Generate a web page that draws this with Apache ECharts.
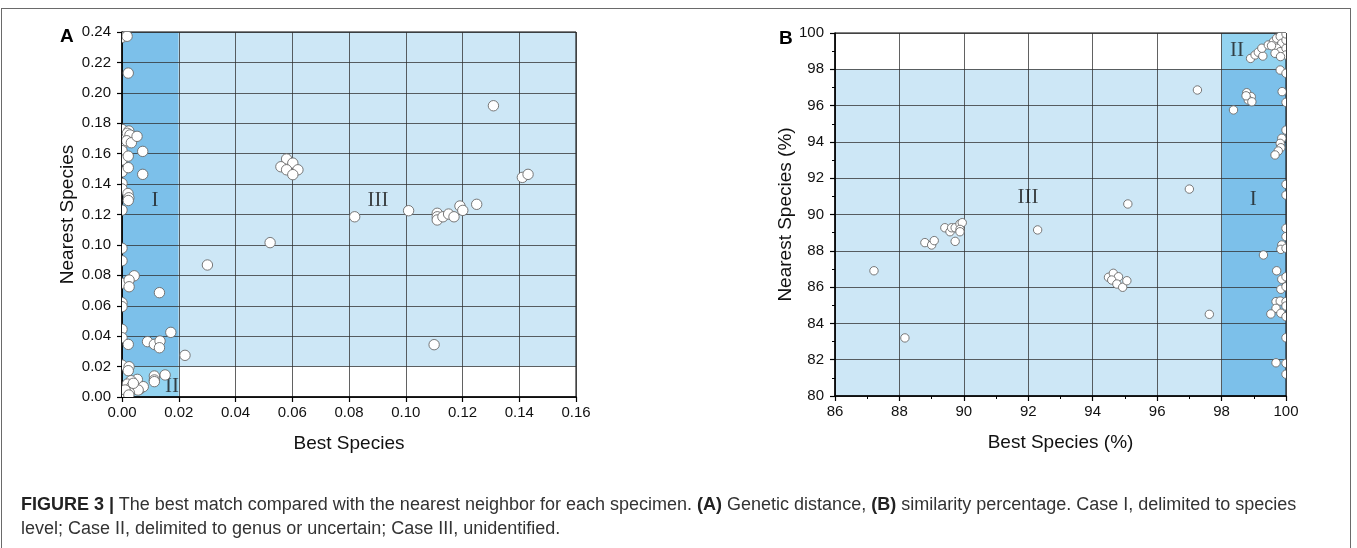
<!DOCTYPE html>
<html>
<head>
<meta charset="utf-8">
<script src="https://cdn.jsdelivr.net/npm/echarts@6/dist/echarts.min.js"></script>
<style>
  html, body { margin: 0; padding: 0; background: #fff; }
  #wrap { position: relative; width: 1357px; height: 548px; overflow: hidden; }
  #chart { position: absolute; left: 0; top: 0; width: 1357px; height: 548px; }
  #frame { position: absolute; left: 1px; top: 8px; width: 1350px; height: 560px;
           border: 1px solid #6a6a6a; box-sizing: border-box; }
  #caption { position: absolute; left: 21px; top: 492px; width: 1320px;
             font-family: "Liberation Sans", Arial, sans-serif; font-size: 18px;
             line-height: 24px; color: #333; white-space: nowrap; }
  #caption b { color: #222; }
</style>
</head>
<body>
<div id="wrap">
  <div id="frame"></div>
  <div id="chart"></div>
  <div id="caption"><b>FIGURE 3 |</b> The best match compared with the nearest neighbor for each specimen. <b>(A)</b> Genetic distance, <b>(B)</b> similarity percentage. Case I, delimited to species<br>level; Case II, delimited to genus or uncertain; Case III, unidentified.</div>
</div>
<script>
// Panel A: genetic distance (best species vs nearest species)
const distanceTicksX = [0, 0.02, 0.04, 0.06, 0.08, 0.10, 0.12, 0.14, 0.16];
const distanceTicksY = [0, 0.02, 0.04, 0.06, 0.08, 0.10, 0.12, 0.14, 0.16, 0.18, 0.20, 0.22, 0.24];
const distancePoints = [
  [0, 0.2365], [0.0018, 0.2372], [0.0022, 0.2130],
  [0, 0.1760], [0, 0.1710], [0, 0.1655], [0, 0.1620], [0, 0.1558], [0, 0.1480],
  [0, 0.1405], [0, 0.1368], [0, 0.1229], [0, 0.0978], [0, 0.0896], [0, 0.0748],
  [0, 0.0620], [0, 0.0594], [0, 0.0445], [0, 0.0390], [0, 0.0210], [0, 0.0013],
  [0.0024, 0.1749], [0.0019, 0.1734], [0.0028, 0.1723], [0.0017, 0.1685], [0.0033, 0.1672],
  [0.0053, 0.1714], [0.0073, 0.1615], [0.0022, 0.1584], [0.0022, 0.1508], [0.0073, 0.1464],
  [0.0021, 0.1338], [0.0024, 0.1310], [0.0022, 0.1292],
  [0.0043, 0.0797], [0.0025, 0.0769], [0.0025, 0.0725], [0.0132, 0.0686], [0.0301, 0.0868],
  [0.0022, 0.0346], [0.0090, 0.0364], [0.0114, 0.0346], [0.0134, 0.0368], [0.0132, 0.0324],
  [0.0172, 0.0425], [0.0222, 0.0274],
  [0.0025, 0.0199], [0.0022, 0.0173],
  [0.0114, 0.0138], [0.0114, 0.0112], [0.0114, 0.0101], [0.0152, 0.0145],
  [0.0054, 0.0116], [0.0032, 0.0107], [0.0019, 0.0085], [0.0034, 0.0068], [0.0063, 0.0053],
  [0.0075, 0.0068], [0.0057, 0.0046], [0.0026, 0.0028], [0.0011, 0.0046], [0.0024, 0.0013],
  [0.0040, 0.0090],
  [0.0522, 0.1015], [0.0580, 0.1565], [0.0602, 0.1538], [0.0560, 0.1514], [0.0580, 0.1494],
  [0.0620, 0.1494], [0.0602, 0.1462],
  [0.0820, 0.1185], [0.1010, 0.1225], [0.1111, 0.1208], [0.1111, 0.1185], [0.1111, 0.1164],
  [0.1131, 0.1185], [0.1151, 0.1203], [0.1170, 0.1185], [0.1191, 0.1256], [0.1201, 0.1227],
  [0.1250, 0.1267], [0.1309, 0.1915], [0.1411, 0.1444], [0.1431, 0.1464], [0.1100, 0.0344]
];
// Case regions [x0, y0, x1, y1, case]
const distanceRegions = [
  [0, 0.02, 0.02, 0.24, 'I'],
  [0, 0, 0.02, 0.02, 'II'],
  [0.02, 0.02, 0.16, 0.24, 'III']
];
const distanceCaseLabels = [
  ['I', 0.0116, 0.1295], ['II', 0.0176, 0.0066], ['III', 0.0902, 0.1295]
];

// Panel B: similarity percentage
const similarityTicksX = [86, 88, 90, 92, 94, 96, 98, 100];
const similarityTicksY = [80, 82, 84, 86, 88, 90, 92, 94, 96, 98, 100];
const similarityPoints = [
  [87.21, 86.90], [88.17, 83.20], [88.79, 88.45], [89.00, 88.32], [89.08, 88.56],
  [89.41, 89.27], [89.57, 89.05], [89.62, 89.27], [89.73, 89.27], [89.73, 88.52],
  [89.88, 89.48], [89.95, 89.55], [89.88, 89.18], [89.88, 89.05],
  [92.29, 89.15], [95.09, 90.58], [94.49, 86.54], [94.64, 86.76], [94.80, 86.57],
  [94.59, 86.39], [94.75, 86.17], [94.93, 85.99], [95.06, 86.35],
  [97.00, 91.40], [97.25, 96.86], [97.62, 84.50],
  [98.37, 95.76], [98.78, 96.71], [98.92, 96.49], [98.83, 96.31], [98.94, 96.21], [98.76, 96.54],
  [98.90, 98.60], [99.04, 98.79], [99.14, 98.94], [99.28, 98.73], [99.25, 99.16], [99.45, 99.34],
  [99.61, 99.52], [99.71, 99.71], [99.82, 99.81], [99.87, 99.43], [99.71, 99.16], [99.82, 98.97],
  [99.66, 98.88], [99.55, 99.30], [100, 99.16], [100, 98.79], [99.83, 98.70], [100, 99.61],
  [100, 99.95],
  [99.82, 97.96], [100, 97.78], [99.88, 96.77], [100, 96.18], [100, 94.65], [99.87, 94.20],
  [99.82, 93.92], [99.84, 93.68], [99.76, 93.50], [99.66, 93.28], [100, 91.66], [100, 91.07],
  [100, 89.24], [100, 88.78], [99.87, 88.32], [99.84, 88.08], [100, 88.14], [99.30, 87.77],
  [99.71, 86.90], [99.87, 86.43], [100, 86.57], [99.84, 85.88], [100, 86.02], [99.69, 85.20],
  [99.82, 85.23], [100, 85.20], [99.69, 84.83], [99.53, 84.52], [99.84, 84.56], [100, 84.37],
  [100, 84.96], [100, 83.21], [99.69, 81.83], [100, 81.80], [100, 81.20]
];
const similarityRegions = [
  [98, 80, 100, 98, 'I'],
  [98, 98, 100, 100, 'II'],
  [86, 80, 98, 98, 'III']
];
const similarityCaseLabels = [
  ['III', 91.99, 90.96], ['I', 98.98, 90.85], ['II', 98.48, 99.06]
];

const caseColors = { I: '#7cc0ea', II: '#93d3f0', III: '#cde7f6' };
const SANS = '"Liberation Sans", Arial, sans-serif';
const SERIF = '"Liberation Serif", "Times New Roman", serif';

function valueAxis(grid, ticks, decimals, nameText, nameGap, isX, minor) {
  return {
    type: 'value', gridIndex: grid,
    min: ticks[0], max: ticks[ticks.length - 1], interval: ticks[1] - ticks[0],
    name: nameText, nameLocation: 'middle', nameGap: nameGap,
    nameTextStyle: { fontFamily: SANS, fontSize: 19, color: '#111' },
    axisLine: { show: true, onZero: false, lineStyle: { color: '#000', width: 1.5 } },
    axisTick: { show: true, inside: false, length: 5, lineStyle: { color: '#000', width: 1.2 } },
    minorTick: { show: !!minor, splitNumber: 2, length: 3, lineStyle: { color: '#000', width: 1 } },
    axisLabel: {
      fontFamily: SANS, fontSize: 15, color: '#111', margin: isX ? 8 : 11,
      formatter: v => decimals ? v.toFixed(decimals) : String(v)
    },
    splitLine: { show: true, lineStyle: { color: 'rgba(45,45,45,0.75)', width: 1 } }
  };
}

function regionSeries(idx, regions) {
  return {
    type: 'custom', xAxisIndex: idx, yAxisIndex: idx, z: -1, silent: true,
    data: regions,
    encode: { x: [0, 2], y: [1, 3] },
    renderItem: (params, api) => {
      const a = api.coord([api.value(0), api.value(1)]);
      const b = api.coord([api.value(2), api.value(3)]);
      const c = regions[params.dataIndex][4];
      return {
        type: 'rect',
        shape: { x: Math.min(a[0], b[0]), y: Math.min(a[1], b[1]),
                 width: Math.abs(b[0] - a[0]), height: Math.abs(b[1] - a[1]) },
        style: { fill: caseColors[c] }
      };
    }
  };
}

function pointSeries(idx, points, r) {
  return {
    type: 'custom', xAxisIndex: idx, yAxisIndex: idx, z: 3, clip: true, silent: true,
    data: points,
    encode: { x: 0, y: 1 },
    renderItem: (params, api) => {
      const p = api.coord([api.value(0), api.value(1)]);
      return {
        type: 'circle',
        shape: { cx: p[0], cy: p[1], r: r },
        style: { fill: '#ffffff', stroke: '#6a6a6a', lineWidth: 0.9 }
      };
    }
  };
}

function caseLabelSeries(idx, labels) {
  return {
    type: 'scatter', xAxisIndex: idx, yAxisIndex: idx, z: 2, silent: true,
    symbolSize: 0,
    data: labels.map(l => ({ name: l[0], value: [l[1], l[2]] })),
    label: {
      show: true, position: 'inside', formatter: p => p.name,
      fontFamily: SERIF, fontSize: 21, color: '#1a1a1a'
    }
  };
}

const chart = echarts.init(document.getElementById('chart'), null, { renderer: 'canvas' });
chart.setOption({
  animation: false,
  backgroundColor: 'transparent',
  title: [
    { text: 'A', left: 55, top: 22, textStyle: { fontFamily: SANS, fontSize: 19, fontWeight: 'bold', color: '#000' } },
    { text: 'B', left: 774, top: 24, textStyle: { fontFamily: SANS, fontSize: 19, fontWeight: 'bold', color: '#000' } }
  ],
  grid: [
    { left: 122, top: 32, width: 454, height: 365, show: true, borderColor: '#000', borderWidth: 1, backgroundColor: 'transparent' },
    { left: 835, top: 33, width: 451, height: 363, show: true, borderColor: '#000', borderWidth: 1, backgroundColor: 'transparent' }
  ],
  xAxis: [
    valueAxis(0, distanceTicksX, 2, 'Best Species', 37, true, false),
    valueAxis(1, similarityTicksX, 0, 'Best Species (%)', 37, true, true)
  ],
  yAxis: [
    valueAxis(0, distanceTicksY, 2, 'Nearest Species', 45, false, false),
    valueAxis(1, similarityTicksY, 0, 'Nearest Species (%)', 40, false, true)
  ],
  series: [
    regionSeries(0, distanceRegions),
    regionSeries(1, similarityRegions),
    caseLabelSeries(0, distanceCaseLabels),
    caseLabelSeries(1, similarityCaseLabels),
    pointSeries(0, distancePoints, 5.2),
    pointSeries(1, similarityPoints, 4.2)
  ]
});
</script>
</body>
</html>
